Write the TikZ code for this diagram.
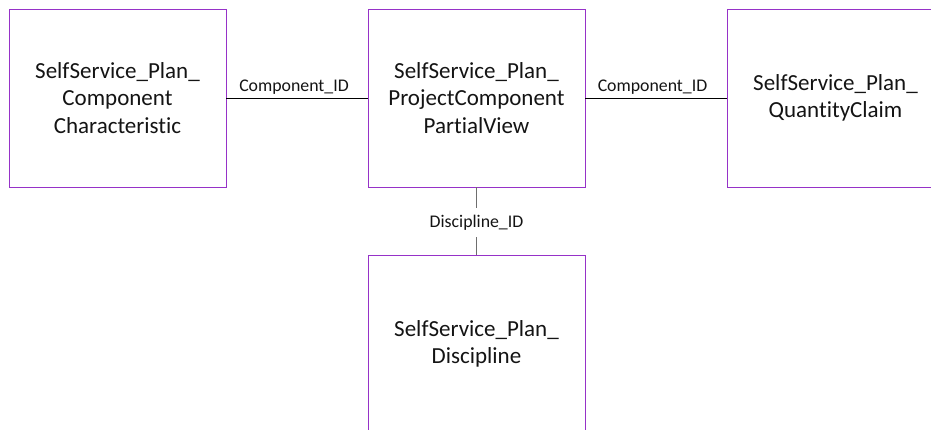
\documentclass[tikz,border=0pt]{standalone}
\usepackage{fontspec}
\setmainfont[Ligatures=NoCommon]{Carlito}
\definecolor{boxpurple}{RGB}{150,50,200}
\definecolor{txt}{RGB}{20,20,20}
\definecolor{vline}{RGB}{110,110,110}
\begin{document}
\begin{tikzpicture}[x=1pt,y=-1pt,
  entity/.style={draw=boxpurple,line width=0.9pt,rectangle,minimum width=217pt,minimum height=178pt,
    align=center,text=txt,font=\fontsize{23}{27.5}\selectfont,inner sep=0pt},
  rel/.style={text=txt,font=\fontsize{17.8}{20}\selectfont},
  conn/.style={line width=0.9pt}]
\useasboundingbox (0,0) rectangle (931,429);
\clip (0,0) rectangle (931,429);
\fill[white] (0,0) rectangle (931,429);
\node[entity] (char) at (117.5,98) {SelfService\_Plan\_\\Component\\Characteristic};
\node[entity] (pcpv) at (476.5,98) {SelfService\_Plan\_\\ProjectComponent\\PartialView};
\node[entity] (qc) at (835.5,98) {SelfService\_Plan\_\\QuantityClaim};
\node[entity] (disc) at (476.5,344) {SelfService\_Plan\_\\Discipline};
\draw[conn] (char.east) -- node[rel,above=3pt,inner sep=0pt,xshift=-3pt] {Component\_ID} (pcpv.west);
\draw[conn] (pcpv.east) -- node[rel,above=3pt,inner sep=0pt,xshift=-3.5pt] {Component\_ID} (qc.west);
\draw[conn,draw=vline] (pcpv.south) -- node[rel,fill=white,inner xsep=2pt,inner ysep=6.5pt,yshift=-1.5pt] {Discipline\_ID} (disc.north);
\end{tikzpicture}
\end{document}
